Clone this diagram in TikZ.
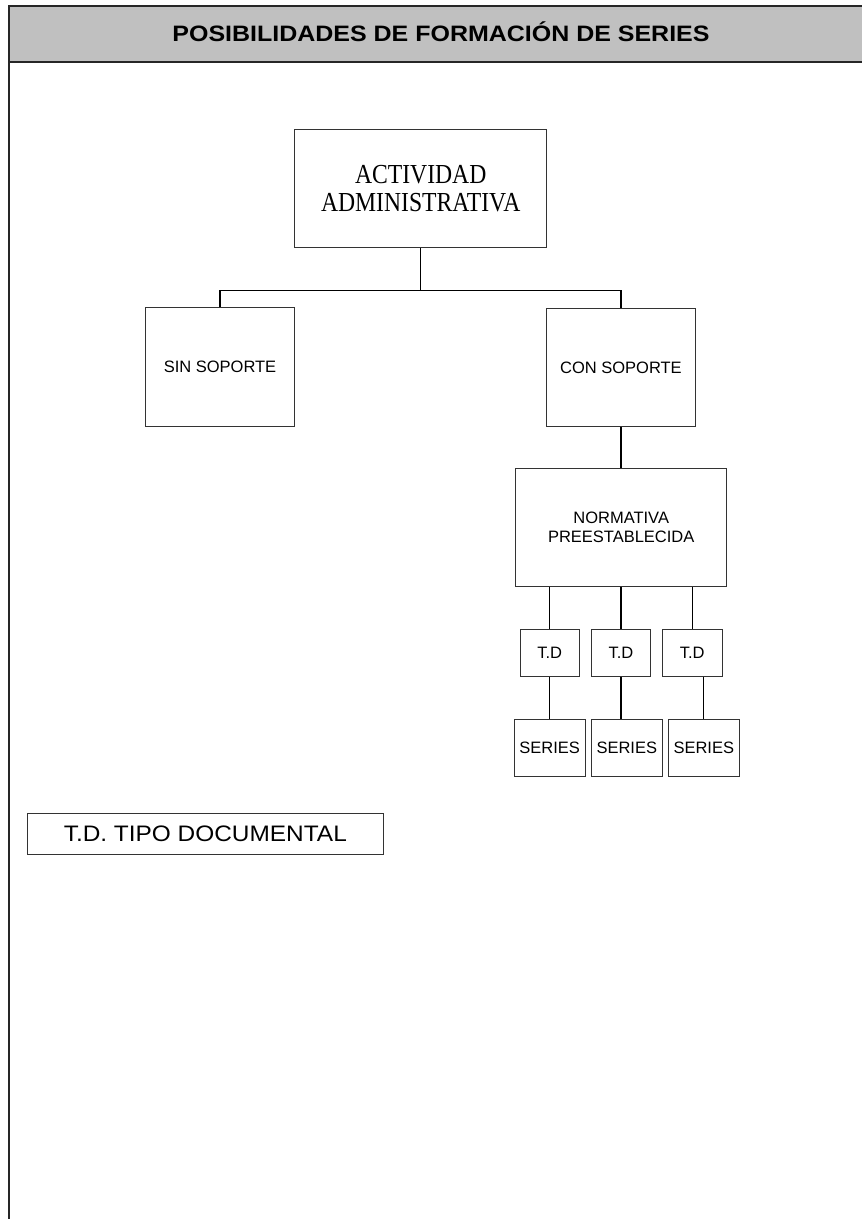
\documentclass[tikz,border=0pt]{standalone}
\usepackage{fontspec}
\setmainfont{Liberation Sans}
\newfontfamily\headfont[FakeStretch=1.12]{Liberation Sans}
\newfontfamily\legfont[FakeStretch=1.09]{Liberation Sans}
\newfontfamily\actfont[FakeStretch=0.86]{Liberation Serif}
\definecolor{headgray}{HTML}{C0C0C0}
\begin{document}
\begin{tikzpicture}[x=1pt,y=-1pt,
  box/.style={draw=black!80,line width=0.9pt,inner sep=0pt,align=center,
    font=\fontsize{16.5}{18.5}\selectfont},
  wire/.style={draw=black,line width=1.3pt}]
\useasboundingbox (0,0) rectangle (862,1219);
\fill[white] (0,0) rectangle (862,1219);

% title band
\fill[headgray] (9,6) rectangle (862,62);
\draw[black!85,line width=1.8pt] (862,6) -- (9,6) -- (9,62) -- (862,62);
\draw[black!85,line width=1.8pt] (9,62) -- (9,1219);
\node (title) at (441,32) {\headfont\bfseries\fontsize{22.3}{24}\selectfont POSIBILIDADES DE FORMACIÓN DE SERIES};

% boxes
\node[box,minimum width=252pt,minimum height=118.4pt,
  font=\actfont\fontsize{27.5}{28.3}\selectfont] (act) at (420.7,188.5) {ACTIVIDAD\\ADMINISTRATIVA};
\node[box,minimum width=148.6pt,minimum height=118.3pt] (sin) at (220,366.9) {SIN SOPORTE};
\node[box,minimum width=148.3pt,minimum height=118.4pt] (con) at (620.9,367.5) {CON SOPORTE};
\node[box,minimum width=211pt,minimum height=118.4pt] (norm) at (621.2,527.5) {NORMATIVA\\PREESTABLECIDA};

\node[box,minimum width=59.3pt,minimum height=47.4pt] (td1) at (549.7,653) {T.D};
\node[box,minimum width=59.7pt,minimum height=47.4pt] (td2) at (620.9,653) {T.D};
\node[box,minimum width=59.7pt,minimum height=47.4pt] (td3) at (692.2,653) {T.D};

\node[box,minimum width=71.3pt,minimum height=56.7pt] (s1) at (549.7,747.7) {SERIES};
\node[box,minimum width=71pt,minimum height=56.7pt] (s2) at (626.8,747.7) {SERIES};
\node[box,minimum width=71pt,minimum height=56.7pt] (s3) at (703.8,747.7) {SERIES};

\node[box,minimum width=356pt,minimum height=41pt,
  font=\legfont\fontsize{22.4}{24}\selectfont] (leg) at (205.3,833.8) {T.D. TIPO DOCUMENTAL};

% connectors
\coordinate (bus) at (420.7,290.7);
\draw[wire] (act.south) -- (bus);
\draw[wire] (sin.north) |- (bus) -| (con.north);
\draw[wire] (con.south) -- (con.south |- norm.north);
\draw[wire] (td1.north) -- (td1.north |- norm.south);
\draw[wire] (td2.north) -- (td2.north |- norm.south);
\draw[wire] (td3.north) -- (td3.north |- norm.south);
\draw[wire] (td1.south) -- (s1.north);
\draw[wire] (td2.south) -- (td2.south |- s2.north);
\draw[wire] (s3.north |- td3.south) -- (s3.north);
\end{tikzpicture}
\end{document}
